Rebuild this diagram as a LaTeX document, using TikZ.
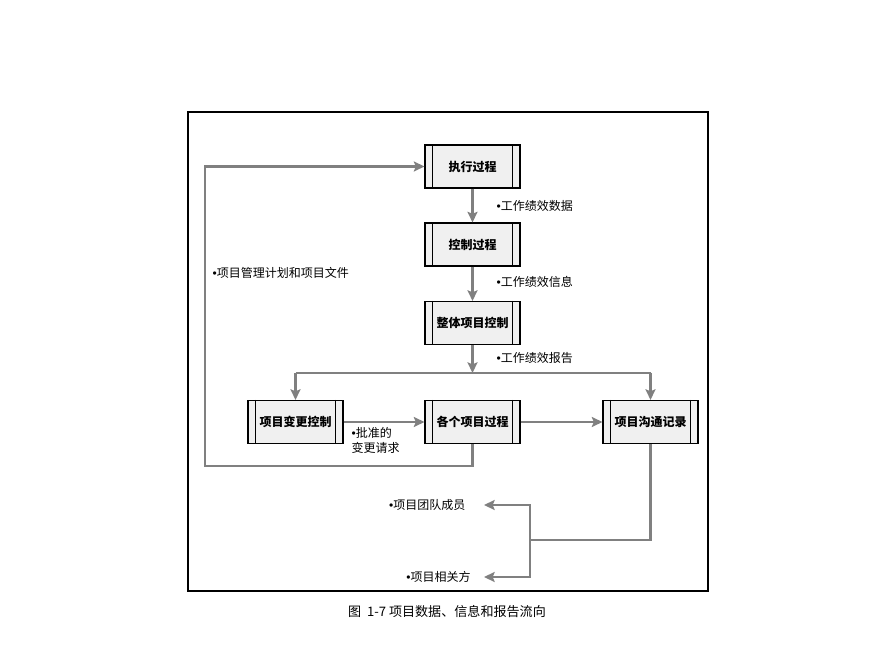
\documentclass[tikz,border=0pt]{standalone}
\usepackage{fontspec}
\setmainfont{Noto Sans CJK SC}
\newfontfamily\bulfont{Liberation Sans}
\newcommand{\bul}{{\bulfont •}}
\usetikzlibrary{arrows.meta}

\tikzset{
  proc/.style={draw, line width=0.8pt, fill=black!6, minimum width=71.25pt, minimum height=32.25pt, inner sep=0pt, font=\bfseries\fontsize{9}{10.5}\selectfont},
  flow/.style={draw=black!50, line width=1.9pt},
  info/.style={inner sep=1pt, font=\fontsize{9}{10.8}\selectfont}
}

\begin{document}
\begin{tikzpicture}[x=0.75pt, y=-0.75pt, >={Stealth[length=8pt, width=7.5pt, inset=1.5pt]}]
\useasboundingbox (0,0) rectangle (896,648);
\draw[line width=1.1pt] (188,112) rectangle (708,591);
% process boxes
\node[proc] (exec) at (472.5,166.5) {执行过程};
\node[proc] (ctrl) at (472.5,244.5) {控制过程};
\node[proc] (integ) at (472.5,323) {整体项目控制};
\node[proc] (chg) at (295.5,422) {项目变更控制};
\node[proc] (proj) at (472.5,422) {各个项目过程};
\node[proc] (comm) at (650.5,422) {项目沟通记录};
\foreach \n in {exec,ctrl,integ,chg,proj,comm}{
  \draw[line width=0.6pt] ([xshift=6pt]\n.north west) -- ([xshift=6pt]\n.south west);
  \draw[line width=0.6pt] ([xshift=-6pt]\n.north east) -- ([xshift=-6pt]\n.south east);
}
% junctions
\coordinate (bus) at (472.5,373);
\coordinate (busl) at (295.5,373);
\coordinate (busr) at (650.5,373);
\coordinate (loop) at (205,466);
\coordinate (fork) at (530,540);
% labels
\node[info, anchor=west] (data) at (495,206) {\bul 工作绩效数据};
\node[info, anchor=west] (infm) at (495,282) {\bul 工作绩效信息};
\node[info, anchor=west] (rept) at (495,358) {\bul 工作绩效报告};
\node[info, anchor=west] (plan) at (211,273) {\bul 项目管理计划和项目文件};
\node[info, anchor=north west, align=left] (appr) at (350,426) {\bul 批准的\\ 变更请求};
\node[info, anchor=east, outer xsep=13pt] (team) at (484,505) {\bul 项目团队成员};
\node[info, anchor=east, outer xsep=9pt] (stake) at (484,577) {\bul 项目相关方};
% connectors
\draw[flow,->] (exec) -- (ctrl);
\draw[flow,->] (ctrl) -- (integ);
\draw[flow,->] (integ) -- (bus);
\draw[flow] (busl) -- (busr);
\draw[flow,->] (busl) -- (chg);
\draw[flow,->] (busr) -- (comm);
\draw[flow,->] (chg) -- (proj);
\draw[flow,->] (proj) -- (comm);
\draw[flow,->] (proj.south) |- (loop) |- (exec.west);
\draw[flow] (comm.south) |- (fork);
\draw[flow,->] (fork) |- (team);
\draw[flow,->] (fork) |- (stake);
% caption
\node[font=\fontsize{9.8}{12}\selectfont] (cap) at (447,612) {图\ \ 1-7 项目数据、信息和报告流向};
\end{tikzpicture}
\end{document}
